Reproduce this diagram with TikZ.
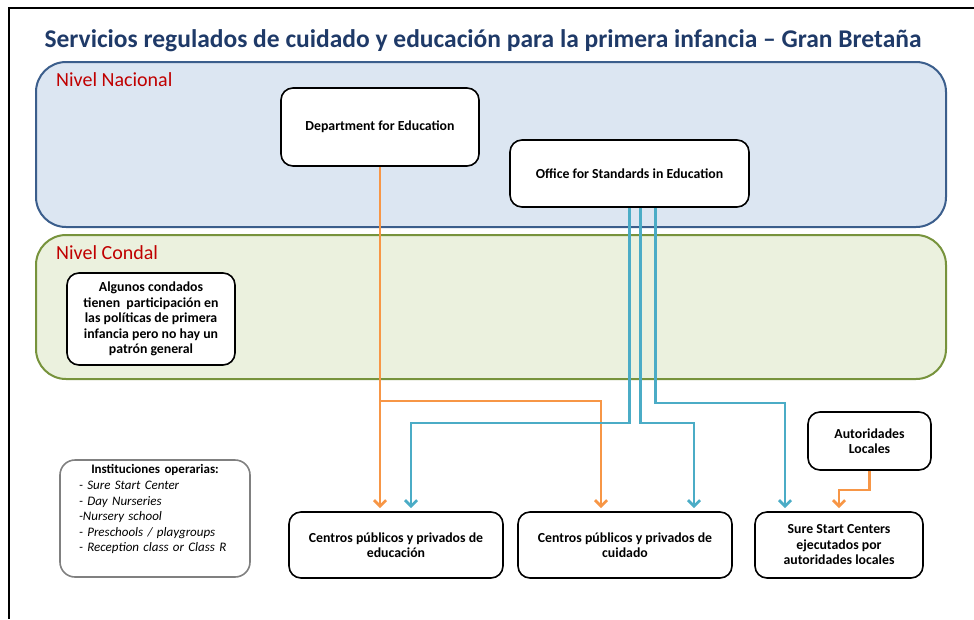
\documentclass[tikz,border=0pt]{standalone}
\usepackage{fontspec}
\setmainfont{Carlito}
\usetikzlibrary{arrows.meta}

\definecolor{titleblue}{HTML}{1F3A68}
\definecolor{nivelred}{HTML}{C00000}
\definecolor{nacblue}{HTML}{3B5E8C}
\definecolor{nacfill}{HTML}{DCE6F2}
\definecolor{condgreen}{HTML}{77933C}
\definecolor{condfill}{HTML}{EBF1DE}
\definecolor{ecorange}{HTML}{F79646}
\definecolor{ofsblue}{HTML}{4BACC6}

\begin{document}
\begin{tikzpicture}[x=1pt,y=-1pt]
  \tikzset{ box/.style={draw=black,fill=white,line width=1.6pt,rounded corners=12pt,align=center,
      font=\fontsize{13.8}{15.5}\selectfont\bfseries},
    level/.style={line width=2pt,rounded corners=30pt},
    lab/.style={anchor=west,inner sep=0pt,text=nivelred,font=\fontsize{20}{22}\selectfont},
    orangeline/.style={draw=ecorange,line width=2.8pt,-{Straight Barb[length=6pt,width=12pt]},shorten >=3pt},
    blueline/.style={draw=ofsblue,line width=2.8pt,-{Straight Barb[length=6pt,width=12pt]},shorten >=3pt},
  }
  \useasboundingbox (0,0) rectangle (974,619);
  \draw[line width=2pt] (974,8) -- (9,8) -- (9,619);

  \node[font=\fontsize{25.5}{28}\selectfont\bfseries,text=titleblue] (title) at (483,41)
    {Servicios regulados de cuidado y educación para la primera infancia – Gran Bretaña};

  % niveles
  \node[level,draw=nacblue,fill=nacfill,minimum width=910pt,minimum height=165pt] (nac) at (491,144.5) {};
  \node[level,draw=condgreen,fill=condfill,minimum width=910pt,minimum height=144pt] (cond) at (491,307) {};
  \node[lab] (nacl) at (56,80) {Nivel Nacional};
  \node[lab] (condl) at (56,253) {Nivel Condal};

  \node[box,minimum width=198pt,minimum height=78pt] (dfe) at (380,127) {Department for Education};
  \node[box,minimum width=239pt,minimum height=67pt] (ofs) at (629.5,173.5) {Office for Standards in Education};
  \node[box,minimum width=168pt,minimum height=92pt] (cnd) at (151,319)
    {Algunos condados\\tienen\ \ participación en\\las políticas de primera\\infancia pero no hay un\\patrón general};
  \node[draw=gray,line width=1.6pt,rounded corners=15pt,text width=152pt,inner xsep=19pt,
    minimum height=117pt,align=left,font=\fontsize{13}{15.6}\selectfont] (inst) at (155,518.5)
    {\makebox[\linewidth]{\bfseries Instituciones operarias:}\\
     \itshape \mbox{- Sure Start Center}\\ \mbox{- Day Nurseries}\\ \mbox{-Nursery school}\\
     \mbox{- Preschools / playgroups}\\ \mbox{- Reception class or Class R}\\ \strut};

  \node[box,minimum width=214pt,minimum height=66pt] (edu) at (396,545) {Centros públicos y privados de\\educación};
  \node[box,minimum width=214pt,minimum height=66pt] (care) at (625,545) {Centros públicos y privados de\\cuidado};
  \node[box,minimum width=168pt,minimum height=66pt] (ssc) at (839,545) {Sure Start Centers\\ejecutados por\\autoridades locales};
  \node[box,minimum width=123pt,minimum height=58pt] (auth) at (869.5,441) {Autoridades\\Locales};

  % conexiones
  \coordinate (o1) at (380,401);
  \coordinate (o2) at (601,401);
  \coordinate (o3) at (839,490);
  \coordinate (b1) at (411,423);
  \coordinate (b2) at (694,423);
  \coordinate (b3) at (785,403);
  \draw[orangeline] (dfe.south) -- (dfe.south |- edu.north);
  \draw[orangeline] (o1) -- (o2) -- (o2 |- care.north);
  \draw[orangeline] (auth.south) |- (o3) -- (ssc.north);
  \draw[blueline] (ofs.south) |- (b1) -- (b1 |- edu.north);
  \draw[blueline] ([xshift=11pt]ofs.south) |- (b2) -- (b2 |- care.north);
  \draw[blueline] ([xshift=26pt]ofs.south) |- (b3) -- (b3 |- ssc.north);
\end{tikzpicture}
\end{document}
